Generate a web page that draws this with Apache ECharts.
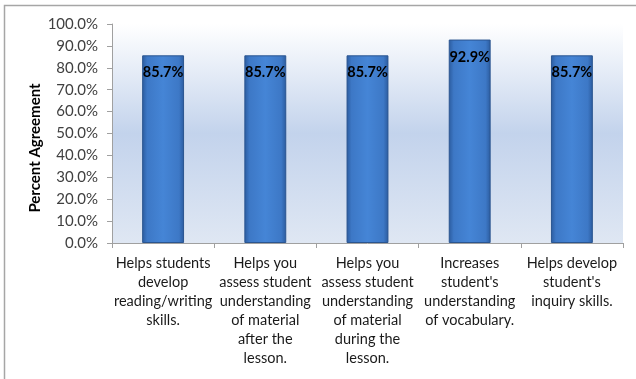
<!DOCTYPE html>
<html><head><meta charset="utf-8">
<script src="https://cdn.jsdelivr.net/npm/echarts@6/dist/echarts.min.js"></script>
<style>html,body{margin:0;padding:0;background:#fff;}#c{width:636px;height:379px;}</style>
</head><body><div id="c"></div>
<script>
const categories = [
  "Helps students\ndevelop\nreading/writing\nskills.",
  "Helps you\nassess student\nunderstanding\nof material\nafter the\nlesson.",
  "Helps you\nassess student\nunderstanding\nof material\nduring the\nlesson.",
  "Increases\nstudent's\nunderstanding\nof vocabulary.",
  "Helps develop\nstudent's\ninquiry skills."
];
const values = [85.7, 85.7, 85.7, 92.9, 85.7];
const yTicks = [0, 10, 20, 30, 40, 50, 60, 70, 80, 90, 100];
const yName = "Percent Agreement";

const chart = echarts.init(document.getElementById('c'), null, {renderer: 'canvas'});
const font = 'Lato, "Open Sans", sans-serif';
chart.setOption({
  animation: false,
  graphic: [{
    type: 'polyline', silent: true,
    shape: {points: [[4.5, 379], [4.5, 5.5], [636, 5.5]]},
    style: {stroke: '#a6a6a6', lineWidth: 1.5, fill: null}
  }, {
    type: 'text', silent: true, x: 35, y: 148, rotation: Math.PI / 2,
    style: {text: yName, fontFamily: font, fontSize: 15, fontWeight: 'bold', fill: '#000',
      align: 'center', verticalAlign: 'middle'}
  }],
  grid: {left: 112, right: 13, top: 24, bottom: 136,
    show: true, borderWidth: 0,
    backgroundColor: new echarts.graphic.LinearGradient(0, 0, 0, 1, [
      {offset: 0, color: '#ffffff'},
      {offset: 0.5, color: '#c3d3ec'},
      {offset: 1, color: '#dfe7f3'}
    ])
  },
  xAxis: {
    type: 'category', data: categories,
    axisLine: {lineStyle: {color: '#a0a0a0'}},
    axisTick: {show: true, length: 5, lineStyle: {color: '#a0a0a0'}},
    axisLabel: {interval: 0, color: '#1a1a1a', fontFamily: font, fontSize: 14.5, lineHeight: 19, margin: 11, align: 'center'}
  },
  yAxis: {
    type: 'value', min: yTicks[0], max: yTicks[yTicks.length - 1], interval: 10,
    axisLine: {show: true, lineStyle: {color: '#a0a0a0'}},
    axisTick: {show: true, length: 5, lineStyle: {color: '#a0a0a0'}},
    splitLine: {show: false},
    axisLabel: {color: '#404040', fontFamily: font, fontSize: 15, margin: 14,
      formatter: v => v.toFixed(1) + '%'}
  },
  series: [{
    type: 'bar', data: values, barWidth: '41%',
    itemStyle: {
      color: new echarts.graphic.LinearGradient(0, 0, 1, 0, [
        {offset: 0, color: '#2b5b9e'},
        {offset: 0.12, color: '#3d78c6'},
        {offset: 0.5, color: '#4585d6'},
        {offset: 0.88, color: '#3d78c6'},
        {offset: 1, color: '#2b5b9e'}
      ]),
      borderColor: '#2a5590', borderWidth: 1
    },
    label: {show: true, position: 'insideTop', distance: 10, color: '#000',
      fontFamily: font, fontWeight: 'bold', fontSize: 14.5,
      formatter: p => p.value.toFixed(1) + '%'}
  }]
});
</script></body></html>
